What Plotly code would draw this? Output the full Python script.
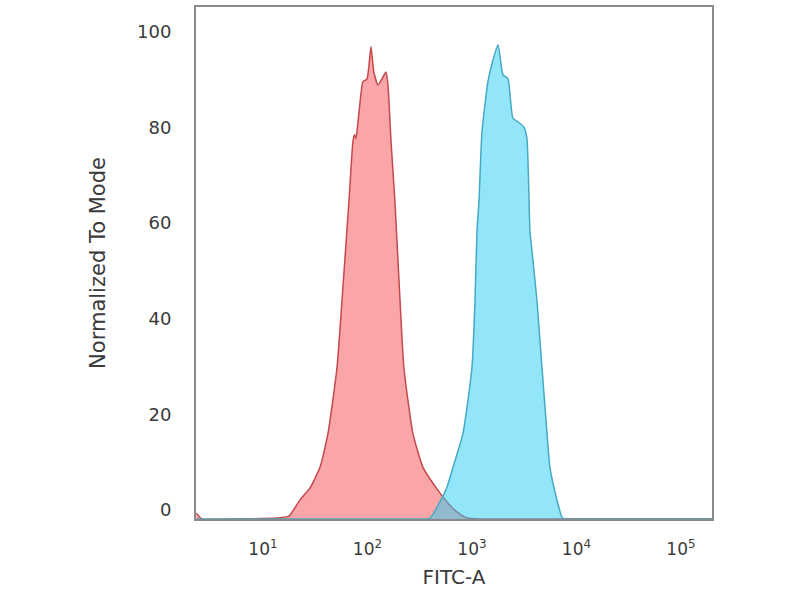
import plotly.graph_objects as go

# Isotype control (red) histogram: FITC-A intensity vs % of mode
red_fitc = [2.3, 2.6, 5.0, 13.6, 17.7, 22.6, 28.2, 35.1, 41.9, 51.1, 57.0, 66.5, 72.6, 75.1, 77.6,
            82.9, 90.6, 98.9, 108, 115, 126, 141, 150, 157, 168, 183, 205, 223, 272,
            340, 473, 615, 767, 895, 1200, 5000, 30000, 198000]
red_mode = [1.2, 0, 0, 0.2, 0.6, 4.0, 6.5, 10.8, 17.9, 31.7, 45.6, 66.5, 79.0, 80.4, 79.6,
            85.0, 91.5, 92.0, 98.8, 93.5, 90.8, 92.5, 93.5, 90.8, 79.0, 66.5, 45.6, 31.7, 17.9,
            10.8, 6.0, 2.9, 1.0, 0.2, 0, 0, 0, 0]

# Antibody-stained (blue) histogram
blue_fitc = [2.3, 10, 60, 250, 396, 505, 577, 658, 820, 1000, 1069, 1117, 1167, 1247, 1422, 1589,
             1774, 1982, 2208, 2466, 2754, 3148, 3357, 3589, 3838, 4188, 4677, 5224, 5572,
             6501, 7261, 7762, 10000, 30000, 198000]
blue_mode = [0, 0, 0, 0, 0.2, 4.0, 6.7, 10.8, 17.9, 31.7, 45.6, 60.2, 66.5, 81.0, 91.5, 96.0,
             99.2, 92.9, 92.1, 83.8, 83.1, 81.9, 79.6, 60.2, 54.0, 45.6, 31.7, 17.9, 10.8,
             4.0, 0.4, 0, 0, 0, 0]

x_tickvals = [10, 100, 1000, 10000, 100000]
x_ticktext = ["10<sup>1</sup>", "10<sup>2</sup>", "10<sup>3</sup>", "10<sup>4</sup>", "10<sup>5</sup>"]
y_tickvals = [0, 20, 40, 60, 80, 100]

fig = go.Figure()
fig.add_trace(go.Scatter(x=red_fitc, y=red_mode, mode="lines", fill="tozeroy",
                         line=dict(color="#c4484c", width=1.5, shape="spline", smoothing=0.5),
                         fillcolor="rgba(246,84,88,0.52)", showlegend=False))
fig.add_trace(go.Scatter(x=blue_fitc, y=blue_mode, mode="lines", fill="tozeroy",
                         line=dict(color="#45a9c2", width=1.5, shape="spline", smoothing=0.5),
                         fillcolor="rgba(40,206,246,0.5)", showlegend=False))

fig.update_layout(
    width=800, height=600,
    margin=dict(l=196, r=88, t=5, b=81),
    paper_bgcolor="white", plot_bgcolor="white",
    font=dict(family="DejaVu Sans", color="#3a3a3a", size=17),
    xaxis=dict(type="log", range=[0.359, 5.297], tickvals=x_tickvals, ticktext=x_ticktext,
               showgrid=False, zeroline=False, showline=True, mirror=True,
               linecolor="#8a8a8a", linewidth=2, ticks="", ticklabelstandoff=14,
               tickfont=dict(size=17),
               title=dict(text="FITC-A", font=dict(size=20), standoff=12)),
    yaxis=dict(range=[0, 107.1], tickvals=y_tickvals, showgrid=False, zeroline=False,
               showline=True, mirror=True, linecolor="#8a8a8a", linewidth=2, ticks="",
               ticklabelstandoff=19, ticklabelshift=-9, tickfont=dict(size=18),
               title=dict(text="Normalized To Mode", font=dict(size=21), standoff=26)),
)

fig.write_html("out.html", config={"displayModeBar": False},
               post_script="document.body.style.margin='0px';")
